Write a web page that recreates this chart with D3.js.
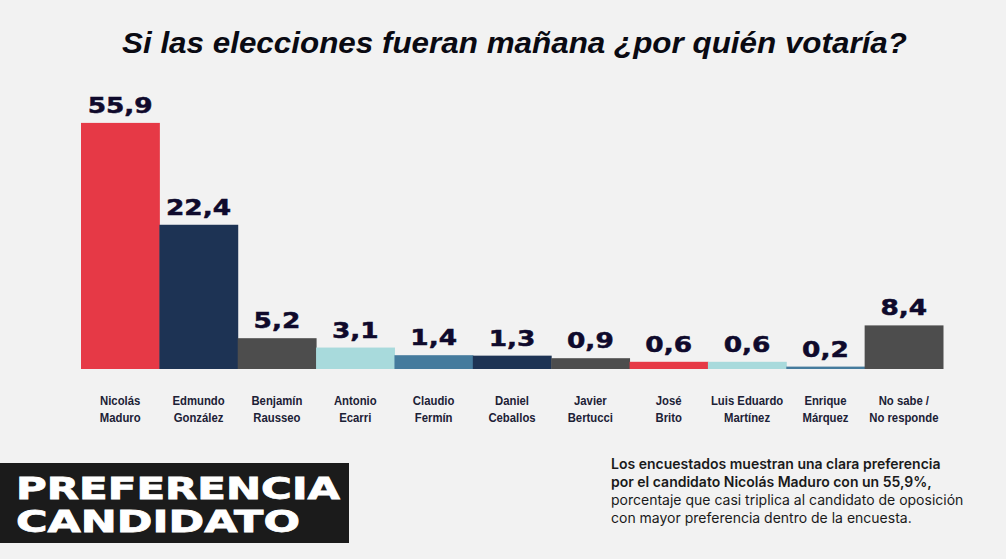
<!DOCTYPE html>
<html>
<head>
<meta charset="utf-8">
<script src="https://cdn.jsdelivr.net/npm/d3@7"></script>
<style>
  html, body { margin: 0; padding: 0; background: #f2f2f2; }
  svg { display: block; }
</style>
</head>
<body>
<svg id="chart" width="1006" height="559"></svg>
<script>
// ---- Data ----
const categories = [
  "Nicolás|Maduro", "Edmundo|González", "Benjamín|Rausseo", "Antonio|Ecarri",
  "Claudio|Fermín", "Daniel|Ceballos", "Javier|Bertucci", "José|Brito",
  "Luis Eduardo|Martínez", "Enrique|Márquez", "No sabe /|No responde"
];
const values = [55.9, 22.4, 5.2, 3.1, 1.4, 1.3, 0.9, 0.6, 0.6, 0.2, 8.4];
const barColors = ["#e63946", "#1d3354", "#4d4d4d", "#a8dadc", "#457b9d", "#1d3354",
                   "#4d4d4d", "#e63946", "#a8dadc", "#457b9d", "#4d4d4d"];
const titleText = "Si las elecciones fueran mañana ¿por quién votaría?";
const badgeLines = ["PREFERENCIA", "CANDIDATO"];
const noteBold = ["Los encuestados muestran una clara preferencia",
                  "por el candidato Nicolás Maduro con un 55,9%,"];
const noteRegular = ["porcentaje que casi triplica al candidato de oposición",
                     "con mayor preferencia dentro de la encuesta."];

// ---- Setup ----
const svg = d3.select("#chart");
svg.append("rect").attr("width", 1006).attr("height", 559).attr("fill", "#f2f2f2");

const locale = d3.formatLocale({decimal: ",", thousands: ".", grouping: [3], currency: ["", ""]});
const fmt = locale.format(".1f");

const baseline = 369;
const x = d3.scaleBand().domain(d3.range(values.length)).range([81, 943]).padding(0);
// the original graphic uses a non-proportional (visually compressed) vertical scale
const y = d3.scaleLinear()
  .domain([0, 1, 5, 10, 25, 60])
  .range([baseline, baseline - 12, baseline - 30, baseline - 50, baseline - 164, baseline - 257]);

// Title
svg.append("text")
  .attr("x", 122).attr("y", 53)
  .attr("font-family", "'Liberation Sans', Arial, sans-serif")
  .attr("font-weight", "bold").attr("font-style", "italic")
  .attr("font-size", 30)
  .attr("textLength", 785).attr("lengthAdjust", "spacingAndGlyphs")
  .attr("fill", "#0a0a12")
  .text(titleText);

// Bars
svg.append("g").selectAll("rect").data(values).join("rect")
  .attr("x", (d, i) => x(i))
  .attr("width", x.bandwidth() + 0.5)
  .attr("y", d => y(d))
  .attr("height", d => baseline - y(d))
  .attr("fill", (d, i) => barColors[i]);

// Value labels
svg.append("g").selectAll("text").data(values).join("text")
  .attr("transform", (d, i) => `translate(${x(i) + x.bandwidth() / 2},${y(d) - 10}) scale(1.2,1)`)
  .attr("text-anchor", "middle")
  .attr("font-family", "'DejaVu Sans', sans-serif")
  .attr("font-weight", "bold")
  .attr("font-size", 22)
  .attr("fill", "#0f0a2c")
  .attr("stroke", "#0f0a2c").attr("stroke-width", 0.5)
  .text(d => fmt(d));

// Category labels
const catG = svg.append("g");
categories.forEach((c, i) => {
  const lines = c.split("|");
  const t = catG.append("text")
    .attr("transform", `translate(${x(i) + x.bandwidth() / 2},0) scale(0.84,1)`)
    .attr("text-anchor", "middle")
    .attr("font-family", "'Liberation Sans', Arial, sans-serif")
    .attr("font-weight", "bold")
    .attr("font-size", 13.5)
    .attr("fill", "#1c2136");
  lines.forEach((ln, j) => {
    t.append("tspan").attr("x", 0).attr("y", 405 + j * 17).text(ln);
  });
});

// Badge
svg.append("rect").attr("x", 0).attr("y", 463).attr("width", 349).attr("height", 80).attr("fill", "#1b1b1b");
const badgeWidths = [324, 284];
badgeLines.forEach((ln, j) => {
  svg.append("text")
    .attr("x", 16).attr("y", 499 + j * 33)
    .attr("font-family", "'DejaVu Sans', sans-serif")
    .attr("font-weight", "bold")
    .attr("font-size", 30)
    .attr("fill", "#ffffff").attr("stroke", "#ffffff").attr("stroke-width", 0.8)
    .attr("textLength", badgeWidths[j]).attr("lengthAdjust", "spacingAndGlyphs")
    .text(ln);
});

// Note
const noteLines = noteBold.map(t => ({t, b: true})).concat(noteRegular.map(t => ({t, b: false})));
svg.append("g").selectAll("text").data(noteLines).join("text")
  .attr("x", 611).attr("y", (d, i) => 469 + i * 18)
  .attr("font-family", "Inter, 'Noto Sans', sans-serif")
  .attr("font-size", 14)
  .attr("font-weight", d => d.b ? 600 : 400)
  .attr("fill", "#1a1a1a")
  .text(d => d.t);
</script>
</body>
</html>
